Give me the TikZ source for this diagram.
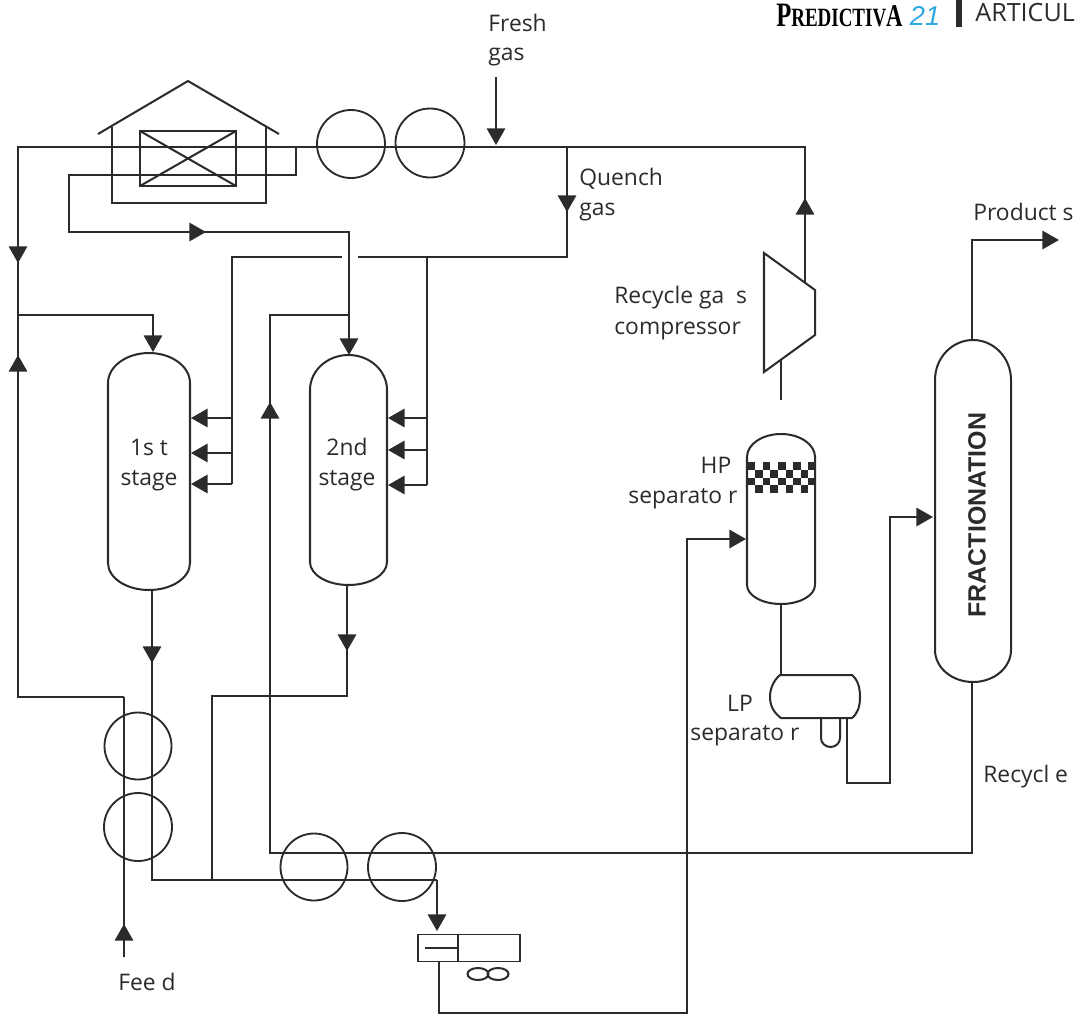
\documentclass[tikz,border=0pt]{standalone}
\usepackage{fontspec}
\setmainfont{Open Sans}
\newfontfamily\logofont{Liberation Serif}
\newfontfamily\headfont{Liberation Sans}
\usetikzlibrary{calc,arrows.meta}

\definecolor{inkc}{HTML}{2B2B2B}
\definecolor{logoblue}{HTML}{2FA8E0}

\tikzset{
  pipe/.style={draw=inkc, line width=1.15pt},
  flow/.style={pipe, -{Triangle[length=9.5pt,width=10.5pt]}},
  exch/.style={circle, draw=inkc, line width=1.05pt, inner sep=0pt, minimum size=#1*0.02cm},
  vessel/.style 2 args={inner sep=0pt, outer sep=0pt, align=center,
    minimum width=#1*0.02cm, minimum height=#2*0.02cm},
  lbl/.style={font=\fontsize{13}{17}\selectfont, text=inkc, inner sep=0pt, align=left}
}
% outline of a vertical drum round a vessel node: name, half width, top cap, bottom cap
\newcommand{\drumline}[4]{
  \draw[pipe] ($(#1.north west)+(0,#3)$)
    arc[start angle=180, end angle=360, x radius=#2, y radius=#3]
    -- ($(#1.south east)+(0,-#4)$)
    arc[start angle=0, end angle=180, x radius=#2, y radius=#4]
    -- cycle;
}

\begin{document}
\begin{tikzpicture}[x=0.02cm,y=-0.02cm]
\useasboundingbox (0,0) rectangle (1075,1015);

% header logo
\node[inner sep=0pt, anchor=base west, xscale=0.72, font=\logofont\bfseries\fontsize{15}{15}\selectfont, text=black] (logoname)
  at (776,26) {{\fontsize{19.5}{20}\selectfont P}REDICTIV{\fontsize{18}{18}\selectfont A}};
\node[inner sep=0pt, anchor=base, font=\headfont\itshape\fontsize{15.5}{16}\selectfont, text=logoblue] (logonum)
  at (925,25) {21};
\fill[inkc] (956,0) rectangle (962,27);
\node[inner sep=0pt, anchor=base west, font=\fontsize{14.3}{15}\selectfont, text=inkc] (logohead)
  at (975,21) {ARTICUL};

% furnace
\draw[pipe] (98,134) -- (188,81) -- (279,134);
\draw[pipe] (112,127) -- (112,203) -- (266,203) -- (266,127);
\draw[pipe] (140,131) rectangle (236,186);
\draw[pipe] (140,131) -- (236,186) (140,186) -- (236,131);

% exchangers
\node[exch=68] (exA) at (351,144) {};
\node[exch=69] (exB) at (430,143) {};
\node[exch=67] (exC) at (138,746) {};
\node[exch=68] (exD) at (138,827) {};
\node[exch=67] (exE) at (314,867) {};
\node[exch=68] (exF) at (402,867) {};

% reactors and columns
\node[vessel={82}{237}] (stageA) at (149,471.5) {};
\node[vessel={77}{230}] (stageB) at (348.5,470) {};
\node[vessel={68}{170}] (hpsep) at (781,519) {};
\node[vessel={76}{342}] (fraction) at (973,511) {};
\drumline{stageA}{41}{30}{27}
\drumline{stageB}{38.5}{35}{23}
\drumline{hpsep}{34}{23}{19}
\drumline{fraction}{38}{40}{32}
\node[lbl, align=center, anchor=base] (txtA) at (149,485) {1s t\\stage};
\node[lbl, align=center, anchor=base] (txtB) at (347,485) {2nd\\stage};
\node[rotate=90, inner sep=0pt, font=\headfont\bfseries\fontsize{14.2}{16}\selectfont, text=inkc] (fractxt) at (977,515) {FRACTIONATION};

% packing of the HP separator
\foreach \r in {0,1,2,3}{
  \foreach \c in {0,...,8}{
    \pgfmathtruncatemacro{\odd}{mod(\r+\c,2)}
    \ifnum\odd=0
      \fill[inkc] (747.5+\c*7.6,462+\r*7.8) rectangle ++(7.6,7.8);
    \fi
  }
}

% LP separator with boot
\node[vessel={90}{43}] (lpsep) at (815,696.5) {};
\draw[pipe] (780,675) -- (852,675) .. controls (858,680) and (860,688) .. (860,697)
  .. controls (860,706) and (858,713) .. (852,718) -- (781,718)
  .. controls (774,713) and (770,706) .. (770,697) .. controls (770,688) and (774,680) .. (780,675) -- cycle;
\draw[pipe] (821,718) -- (821,738) arc[start angle=180, end angle=0, x radius=9.5, y radius=9] -- (840,718);

% compressor
\coordinate (compA) at (764,253);
\coordinate (compB) at (815,290);
\coordinate (compC) at (815,335);
\coordinate (compD) at (764,372);
\draw[pipe] (compA) -- (compB) -- (compC) -- (compD) -- cycle;

% receiver drum
\node[draw=inkc, line width=1.05pt, inner sep=0pt, outer sep=0pt, minimum width=2.04cm, minimum height=0.54cm] (recv) at (469,948) {};
\draw[pipe] (458,935) -- (458,961);
\draw[pipe] (425,948) -- (458,948);
\draw[pipe] (478,974) ellipse (10.5 and 6);
\draw[pipe] (498,974) ellipse (10.5 and 6);

% main gas loop
\coordinate (loopL) at (18,147);
\coordinate (loopR) at (805,147);
\coordinate (freshE) at (496,145);
\coordinate (quenchA) at (567,147);
\coordinate (feedJ) at (124,697);
\coordinate (branchA) at (18,315);
\coordinate (compOut) at (805,282);
\draw[pipe] (compOut) -- (loopR) -- (loopL) -- (18,697) -- (feedJ);
\draw[flow] (compOut) -- (805,198);
\draw[flow] (loopL) -- (18,263);
\draw[flow] (18,697) -- (18,355);
\draw[pipe] (124,945) -- (feedJ);
\coordinate (feedT) at (124,924);
\draw[flow] (124,957) -- (feedT);
\draw[flow] (branchA) -- (153,315) -- (153,352);

% fresh gas
\coordinate (freshS) at (496,77);
\draw[flow] (freshS) -- (freshE);

% furnace outlet to second stage
\draw[pipe] (296,147) -- (296,175) -- (69,175) -- (69,232) -- (349,232) -- (349,340);
\draw[flow] (69,232) -- (206,232);
\draw[flow] (349,232) -- (349,355);

% quench gas
\draw[flow] (quenchA) -- (567,212);
\draw[pipe] (quenchA) -- (567,257) -- (358,257);
\draw[pipe] (342,257) -- (232,257) -- (232,484);
\draw[pipe] (427,257) -- (427,485);
\foreach \y in {418,453,484}{
  \draw[flow] (232,\y) -- (191,\y);
}
\foreach \y in {418,450,485}{
  \draw[flow] (427,\y) -- (388,\y);
}

% reactor outlets and recycle
\coordinate (outA) at (152,880);
\coordinate (teeB) at (212,880);
\coordinate (teeC) at (437,880);
\draw[pipe] (152,590) -- (outA) -- (teeC);
\draw[flow] (152,590) -- (152,663);
\draw[pipe] (teeB) -- (212,696) -- (347,696) -- (347,585);
\draw[flow] (347,585) -- (347,651);
\draw[flow] (teeC) -- (437,931);

\coordinate (recycleB) at (270,853);
\draw[pipe] (972,682) -- (972,853) -- (recycleB) -- (270,315) -- (349,315);
\draw[flow] (recycleB) -- (270,402);

% liquid lines
\draw[flow] (439,961) -- (439,1013) -- (687,1013) -- (687,539) -- (746,539);
\draw[pipe] (781,604) -- (781,675);
\draw[flow] (847,718) -- (847,783) -- (890,783) -- (890,517) -- (933,517);
\draw[pipe] (781,360) -- (781,400);
\draw[flow] (972,340) -- (972,240) -- (1059,240);

% labels
\node[lbl, anchor=base west] (fresh) at (488,31) {Fresh};
\node[lbl, anchor=base west] (gasA) at (488,60) {gas};
\node[lbl, anchor=base west] (quench) at (579,185) {Quench};
\node[lbl, anchor=base west] (gasB) at (579,215) {gas};
\node[lbl, anchor=base west] (product) at (973,220) {Product s};
\node[lbl, anchor=base west] (recycA) at (614,303) {Recycle ga\ \ s};
\node[lbl, anchor=base west] (recycB) at (614,334) {compressor};
\node[lbl, anchor=base] (hp) at (716,473) {HP};
\node[lbl, anchor=base west] (sepA) at (628,503) {separato r};
\node[lbl, anchor=base] (lp) at (740,711) {LP};
\node[lbl, anchor=base west] (sepB) at (690,740) {separato r};
\node[lbl, anchor=base west] (recycle) at (983,782) {Recycl e};
\node[lbl, anchor=base west] (feed) at (118,990) {Fee d};
\end{tikzpicture}
\end{document}
